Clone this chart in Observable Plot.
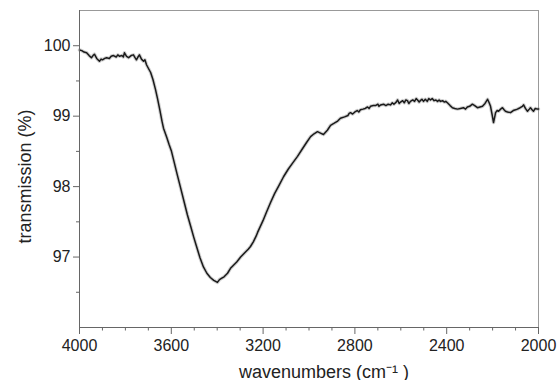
<!DOCTYPE html>
<html><head><meta charset="utf-8">
<script src="https://cdn.jsdelivr.net/npm/d3@7"></script>
<script src="https://cdn.jsdelivr.net/npm/@observablehq/plot@0.6"></script>
<style>body{margin:0;background:#fff} #chart{width:558px;height:380px}</style>
</head><body><div id="chart"></div>
<script>
const wavenumber = [4000,3990,3980,3969,3958,3948,3941,3935,3925,3913,3906,3900,3890,3882,3870,3862,3852,3840,3833,3826,3815,3809,3804,3795,3786,3775,3765,3758,3752,3745,3739,3730,3721,3715,3708,3700,3690,3680,3669,3660,3650,3640,3634,3620,3610,3600,3590,3575,3560,3547,3530,3515,3503,3490,3475,3460,3445,3430,3415,3399,3390,3380,3370,3355,3342,3330,3315,3298,3280,3265,3255,3242,3230,3224,3200,3185,3168,3150,3130,3111,3090,3070,3050,3030,3010,2993,2978,2963,2950,2937,2920,2906,2890,2875,2863,2845,2830,2825,2819,2810,2800,2790,2783,2776,2765,2755,2745,2738,2732,2720,2710,2700,2695,2688,2675,2665,2655,2645,2637,2630,2620,2614,2607,2601,2592,2585,2578,2571,2565,2558,2548,2540,2533,2527,2520,2515,2508,2501,2493,2485,2478,2471,2463,2455,2447,2440,2433,2427,2418,2410,2404,2397,2385,2375,2365,2353,2340,2327,2318,2310,2300,2288,2278,2266,2255,2244,2233,2222,2215,2209,2202,2196,2190,2187,2180,2174,2165,2157,2150,2144,2135,2122,2110,2100,2092,2080,2070,2065,2057,2048,2040,2035,2028,2022,2014,2005,2000];
const transmission = [99.94,99.93,99.91,99.90,99.86,99.83,99.86,99.88,99.82,99.78,99.81,99.80,99.82,99.83,99.82,99.85,99.86,99.84,99.87,99.85,99.86,99.84,99.90,99.85,99.83,99.86,99.87,99.83,99.80,99.84,99.87,99.81,99.78,99.80,99.73,99.68,99.62,99.52,99.38,99.25,99.09,98.92,98.83,98.70,98.60,98.51,98.38,98.18,97.99,97.82,97.60,97.43,97.29,97.15,96.99,96.86,96.77,96.71,96.67,96.64,96.68,96.70,96.72,96.77,96.84,96.88,96.93,97.00,97.06,97.11,97.15,97.22,97.30,97.35,97.52,97.64,97.77,97.90,98.02,98.14,98.25,98.34,98.43,98.53,98.63,98.71,98.75,98.78,98.76,98.74,98.80,98.87,98.90,98.93,98.97,98.99,99.01,99.04,99.05,99.03,99.06,99.08,99.06,99.09,99.10,99.11,99.13,99.11,99.14,99.15,99.15,99.17,99.14,99.16,99.17,99.15,99.17,99.16,99.19,99.17,99.20,99.23,99.18,99.20,99.22,99.19,99.23,99.22,99.18,99.21,99.23,99.21,99.25,99.23,99.20,99.22,99.24,99.21,99.24,99.21,99.25,99.23,99.25,99.22,99.23,99.21,99.23,99.21,99.22,99.20,99.21,99.19,99.15,99.12,99.11,99.10,99.11,99.12,99.10,99.13,99.14,99.17,99.15,99.12,99.13,99.14,99.18,99.24,99.19,99.14,99.02,98.91,99.00,99.05,99.08,99.07,99.10,99.12,99.09,99.07,99.06,99.05,99.08,99.09,99.10,99.12,99.14,99.16,99.11,99.07,99.10,99.12,99.09,99.07,99.11,99.10,99.10];
const xMajorTicks = [4000,3600,3200,2800,2400,2000];
const xMinorTicks = [3900,3800,3700,3500,3400,3300,3100,3000,2900,2700,2600,2500,2300,2200,2100];
const yMajorTicks = [97,98,99,100];
const yMinorTicks = [96.5,97.5,98.5,99.5];
const xLabel = "wavenumbers (cm\u207B\u00B9 )";
const yLabel = "transmission (%)";

const data = wavenumber.map((w, i) => ({w, t: transmission[i]}));
const fmt = d => String(d);

const plot = Plot.plot({
  width: 558, height: 380,
  marginLeft: 79, marginRight: 20, marginTop: 10, marginBottom: 53,
  style: {fontFamily: "'Liberation Sans', Arial, sans-serif", fontSize: "16px", color: "#222", background: "#fff"},
  x: {domain: [4000, 2000]},
  y: {domain: [96, 100.5]},
  marks: [
    Plot.frame({stroke: "#999"}),
    Plot.line(data, {x: "w", y: "t", stroke: "#777", strokeWidth: 3.5, strokeOpacity: 0.35}),
    Plot.line(data, {x: "w", y: "t", stroke: "#1a1a1a", strokeWidth: 1.5}),
    Plot.axisX(xMajorTicks, {tickSize: 7, tickPadding: 5, stroke: "#666", fill: "#222", fontSize: 16, label: null, tickFormat: fmt}),
    Plot.axisX(xMinorTicks, {tickSize: 3.5, stroke: "#666", label: null, tickFormat: () => ""}),
    Plot.axisY(yMajorTicks, {tickSize: 6, tickPadding: 3, stroke: "#666", fill: "#222", fontSize: 16, label: null, tickFormat: fmt}),
    Plot.axisY(yMinorTicks, {tickSize: 3, stroke: "#666", label: null, tickFormat: () => ""}),
    Plot.ruleX([4000], {stroke: "#666"}),
    Plot.ruleY([96], {stroke: "#666"}),
    Plot.text([xLabel], {text: d => d, frameAnchor: "bottom", dx: 15, dy: 50, lineAnchor: "bottom", textAnchor: "middle", fontSize: 18, fill: "#222"}),
    Plot.text([yLabel], {text: d => d, frameAnchor: "left", rotate: -90, dx: -54, dy: 7.5, lineAnchor: "middle", textAnchor: "middle", fontSize: 18, fill: "#222"})
  ]
});
document.getElementById("chart").appendChild(plot);
</script>
</body></html>
